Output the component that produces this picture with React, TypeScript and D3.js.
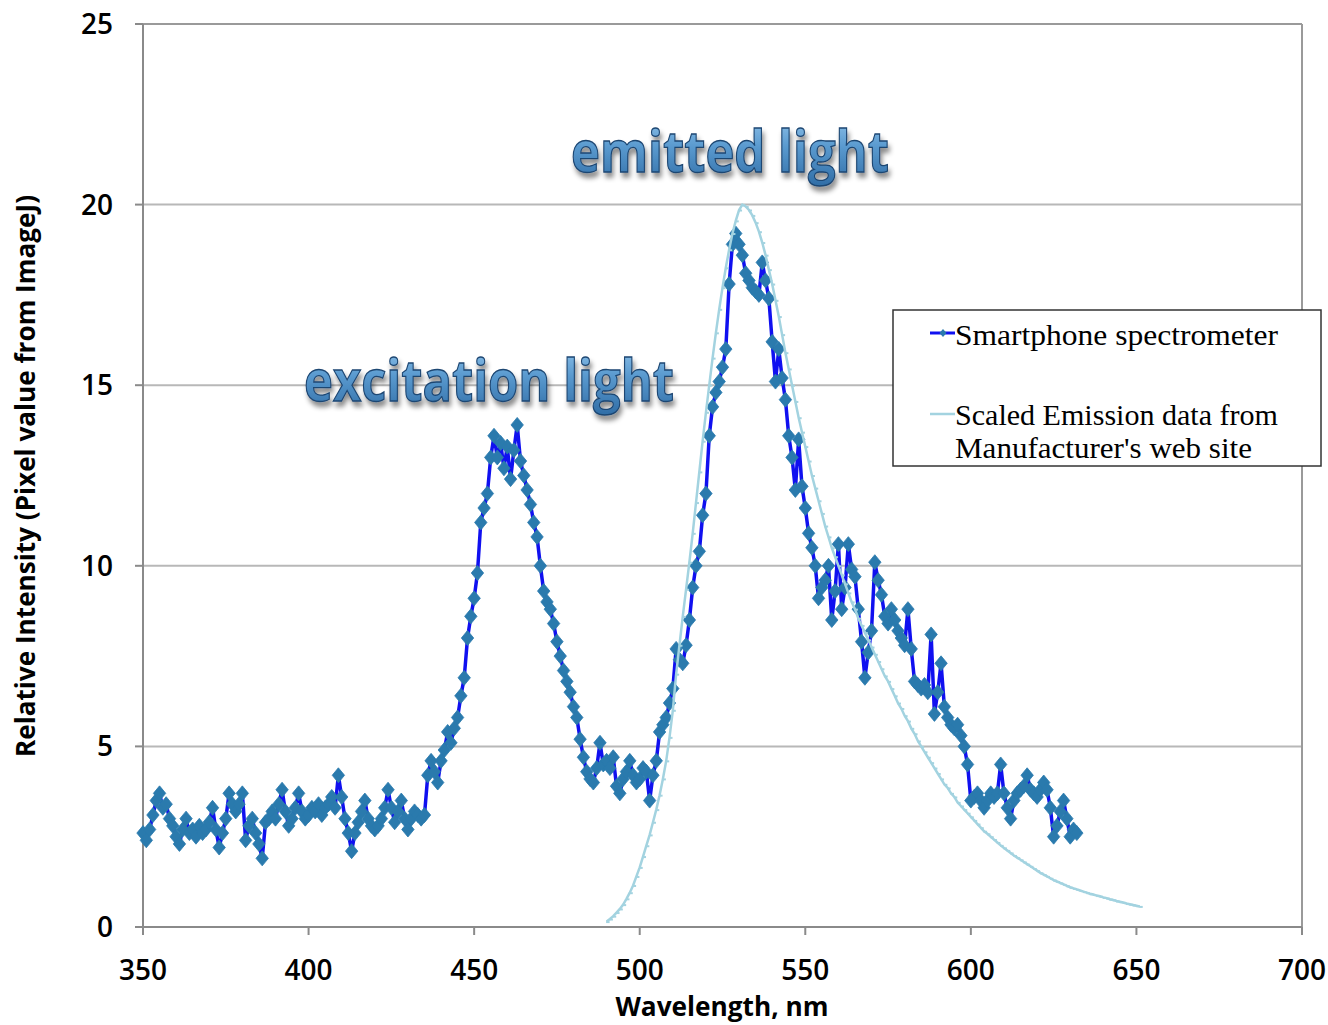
import React from 'react';
import * as d3 from 'd3';

// Smartphone spectrometer readings, one per nm starting at 350 nm
const PHONE_START_NM = 350;
const phoneIntensity: number[] = [
  2.6, 2.4, 2.7, 3.1, 3.5, 3.7, 3.3, 3.4, 3.0, 2.8,
  2.5, 2.3, 2.7, 3.0, 2.6, 2.7, 2.5, 2.8, 2.6, 2.7,
  2.9, 3.3, 2.7, 2.2, 2.6, 3.0, 3.7, 3.4, 3.2, 3.4,
  3.7, 2.4, 2.8, 3.0, 2.6, 2.3, 1.9, 2.9, 3.0, 3.2,
  3.0, 3.4, 3.8, 3.2, 2.8, 3.0, 3.3, 3.7, 3.2, 3.0,
  3.1, 3.3, 3.2, 3.4, 3.1, 3.3, 3.4, 3.6, 3.3, 4.2,
  3.6, 3.0, 2.6, 2.1, 2.6, 2.9, 3.2, 3.5, 3.0, 2.8,
  2.7, 2.8, 3.0, 3.3, 3.8, 3.3, 2.9, 3.2, 3.5, 3.0,
  2.7, 3.0, 3.2, 3.1, 3.0, 3.1, 4.2, 4.6, 4.3, 4.0,
  4.6, 4.9, 5.4, 5.1, 5.5, 5.8, 6.4, 6.9, 8.0, 8.6,
  9.1, 9.8, 11.2, 11.6, 12.0, 13.0, 13.6, 13.0, 13.4, 12.7,
  13.3, 12.4, 13.2, 13.9, 12.9, 12.5, 12.1, 11.7, 11.2, 10.8,
  10.0, 9.3, 9.0, 8.8, 8.4, 7.9, 7.5, 7.1, 6.8, 6.5,
  6.1, 5.8, 5.2, 4.7, 4.3, 4.1, 4.0, 4.4, 5.1, 4.5,
  4.6, 4.4, 4.7, 3.9, 3.7, 4.1, 4.3, 4.6, 4.2, 4.0,
  4.1, 4.4, 4.3, 3.5, 4.2, 4.6, 5.4, 5.6, 5.8, 6.2,
  6.6, 7.7, 7.4, 7.3, 7.8, 8.5, 9.4, 10.0, 10.4, 11.4,
  12.0, 13.6, 14.4, 14.8, 15.1, 15.5, 16.0, 17.8, 18.9, 19.2,
  18.9, 18.6, 18.1, 17.9, 17.7, 17.6, 17.5, 18.4, 17.9, 17.4,
  16.2, 15.1, 16.0, 15.2, 14.6, 13.6, 13.0, 12.1, 13.5, 12.2,
  11.6, 10.9, 10.5, 10.0, 9.1, 9.4, 9.6, 10.0, 8.5, 9.3,
  10.6, 8.8, 9.4, 10.6, 9.9, 9.7, 8.8, 7.9, 6.9, 7.6,
  8.2, 10.1, 9.6, 9.2, 8.6, 8.4, 8.8, 8.5, 8.2, 8.0,
  7.8, 8.8, 7.7, 6.8, 6.7, 6.6, 6.7, 6.5, 8.1, 5.9,
  6.5, 7.3, 6.1, 5.8, 5.6, 5.5, 5.6, 5.3, 5.0, 4.5,
  3.5, 3.6, 3.7, 3.5, 3.3, 3.5, 3.7, 3.6, 3.7, 4.5,
  3.7, 3.3, 3.0, 3.5, 3.7, 3.8, 3.9, 4.2, 3.8, 3.7,
  3.6, 3.8, 4.0, 3.8, 3.3, 2.5, 2.8, 3.2, 3.5, 3.0,
  2.5, 2.7, 2.6,
];

// Scaled manufacturer emission data, one per nm starting at 490 nm
const MFR_START_NM = 490;
const mfrIntensity: number[] = [
  0.15, 0.22, 0.3, 0.4, 0.5, 0.62, 0.78, 0.95, 1.15, 1.4,
  1.65, 1.95, 2.25, 2.55, 2.9, 3.25, 3.65, 4.1, 4.6, 5.25,
  6.0, 7.0, 7.8, 8.6, 9.35, 10.1, 10.9, 11.75, 12.6, 13.45,
  14.25, 15.0, 15.75, 16.45, 17.1, 17.7, 18.25, 18.75, 19.2, 19.55,
  19.85, 20.0, 19.95, 19.85, 19.7, 19.5, 19.25, 18.95, 18.6, 18.2,
  17.8, 17.35, 16.9, 16.4, 15.9, 15.45, 15.0, 14.55, 14.1, 13.7,
  13.3, 12.9, 12.5, 12.15, 11.8, 11.45, 11.1, 10.8, 10.5, 10.25,
  10.0, 9.75, 9.5, 9.25, 9.0, 8.8, 8.55, 8.35, 8.15, 7.95,
  7.75, 7.55, 7.35, 7.15, 6.95, 6.8, 6.6, 6.4, 6.2, 6.05,
  5.85, 5.7, 5.5, 5.35, 5.15, 5.0, 4.85, 4.7, 4.55, 4.4,
  4.25, 4.1, 3.95, 3.85, 3.7, 3.6, 3.45, 3.35, 3.25, 3.15,
  3.05, 2.95, 2.85, 2.75, 2.65, 2.58, 2.5, 2.42, 2.34, 2.26,
  2.19, 2.12, 2.05, 1.98, 1.92, 1.86, 1.8, 1.74, 1.68, 1.62,
  1.56, 1.5, 1.45, 1.4, 1.35, 1.3, 1.26, 1.22, 1.18, 1.14,
  1.1, 1.07, 1.04, 1.01, 0.98, 0.95, 0.92, 0.9, 0.87, 0.85,
  0.82, 0.8, 0.77, 0.75, 0.72, 0.7, 0.68, 0.65, 0.63, 0.61,
  0.59, 0.57,
];

const xTicks = [350, 400, 450, 500, 550, 600, 650, 700];
const yTicks = [0, 5, 10, 15, 20, 25];
const seriesNames = ['Smartphone spectrometer', 'Scaled Emission data from', "Manufacturer's web site"];
const annotations = ['emitted light', 'excitation light'];
const xTitle = 'Wavelength, nm';
const yTitle = 'Relative Intensity (Pixel value from ImageJ)';

const PHONE_LINE = '#1010f0';
const PHONE_MARK = '#2a7aad';
const MFR_LINE = '#a3d3e0';
const TICK_FONT = '"Open Sans", "Noto Sans", sans-serif';

const diamond = 'M0,-7.5L6.2,0L0,7.5L-6.2,0Z';

export default function App() {
  const x = d3.scaleLinear().domain([350, 700]).range([143, 1302]);
  const y = d3.scaleLinear().domain([0, 25]).range([927, 24]);

  const phone: [number, number][] = phoneIntensity.map((v, i) => [PHONE_START_NM + i, v]);
  const mfr: [number, number][] = mfrIntensity.map((v, i) => [MFR_START_NM + i, v]);

  const line = d3
    .line<[number, number]>()
    .x((d) => x(d[0]))
    .y((d) => y(d[1]));

  const [x0, x1] = x.range();
  const [yb, yt] = y.range();

  return (
    <svg
      width={1328}
      height={1025}
      style={{ position: 'absolute', left: 0, top: 0, background: '#fff' }}
    >
      <defs>
        <linearGradient id="annGrad" x1="0" y1="0" x2="0" y2="1">
          <stop offset="0" stopColor="#9ccbef" />
          <stop offset="0.45" stopColor="#5b9bd0" />
          <stop offset="1" stopColor="#2d6aa3" />
        </linearGradient>
        <filter id="annShadow" x="-10%" y="-30%" width="120%" height="170%">
          <feDropShadow dx="2" dy="5" stdDeviation="2.5" floodColor="#000" floodOpacity="0.45" />
        </filter>
      </defs>
      <rect x={0} y={0} width={1328} height={1025} fill="#fff" />

      {/* gridlines */}
      {yTicks.map((t) => (
        <line key={'g' + t} x1={x0} x2={x1} y1={y(t)} y2={y(t)} stroke="#b8b8b8" strokeWidth={2} />
      ))}
      {/* plot frame */}
      <line x1={x1} x2={x1} y1={yt} y2={yb} stroke="#9a9a9a" strokeWidth={2} />
      <line x1={x0} x2={x1} y1={yt} y2={yt} stroke="#9a9a9a" strokeWidth={2} />
      {/* axes */}
      <line x1={x0} x2={x0} y1={yt} y2={yb} stroke="#8a8a8a" strokeWidth={2} />
      <line x1={x0} x2={x1} y1={yb} y2={yb} stroke="#8a8a8a" strokeWidth={2} />
      {yTicks.map((t) => (
        <line key={'yt' + t} x1={x0 - 8} x2={x0} y1={y(t)} y2={y(t)} stroke="#8a8a8a" strokeWidth={2} />
      ))}
      {xTicks.map((t) => (
        <line key={'xt' + t} x1={x(t)} x2={x(t)} y1={yb} y2={yb + 8} stroke="#8a8a8a" strokeWidth={2} />
      ))}

      {/* tick labels */}
      {yTicks.map((t) => (
        <text
          key={'yl' + t}
          x={113}
          y={y(t)}
          dy="0.36em"
          textAnchor="end"
          fontFamily={TICK_FONT}
          fontWeight={600}
          fontSize={28}
          fill="#000"
        >
          {t}
        </text>
      ))}
      {xTicks.map((t) => (
        <text
          key={'xl' + t}
          x={x(t)}
          y={980}
          textAnchor="middle"
          fontFamily={TICK_FONT}
          fontWeight={600}
          fontSize={29}
          textLength={48}
          lengthAdjust="spacingAndGlyphs"
          fill="#000"
        >
          {t}
        </text>
      ))}

      {/* axis titles */}
      <text
        x={722}
        y={1016}
        textAnchor="middle"
        fontFamily={TICK_FONT}
        fontWeight="bold"
        fontSize={26}
        textLength={213}
        lengthAdjust="spacingAndGlyphs"
      >
        {xTitle}
      </text>
      <text
        transform="translate(35,476) rotate(-90)"
        textAnchor="middle"
        fontFamily={TICK_FONT}
        fontWeight="bold"
        fontSize={26}
        textLength={562}
        lengthAdjust="spacingAndGlyphs"
      >
        {yTitle}
      </text>

      {/* smartphone series */}
      <path d={line(phone) || ''} fill="none" stroke={PHONE_LINE} strokeWidth={3.5} />
      {phone.map((d, i) => (
        <path
          key={'pm' + i}
          d={diamond}
          transform={`translate(${x(d[0])},${y(d[1])})`}
          fill={PHONE_MARK}
          stroke={PHONE_MARK}
          strokeWidth={0.8}
        />
      ))}

      {/* manufacturer series */}
      <path d={line(mfr) || ''} fill="none" stroke={MFR_LINE} strokeWidth={2.5} />
      {mfr.map((d, i) => (
        <rect
          key={'mm' + i}
          x={x(d[0]) - 0.5}
          y={y(d[1]) - 0.5}
          width={3.5}
          height={2}
          fill={MFR_LINE}
        />
      ))}

      {/* annotations */}
      <g filter="url(#annShadow)">
        <text
          x={730}
          y={172}
          textAnchor="middle"
          fontFamily={TICK_FONT}
          fontWeight="bold"
          fontSize={58}
          textLength={318}
          lengthAdjust="spacingAndGlyphs"
          fill="url(#annGrad)"
          stroke="#1d4672"
          strokeWidth={1.3}
        >
          {annotations[0]}
        </text>
        <text
          x={489}
          y={401}
          textAnchor="middle"
          fontFamily={TICK_FONT}
          fontWeight="bold"
          fontSize={58}
          textLength={370}
          lengthAdjust="spacingAndGlyphs"
          fill="url(#annGrad)"
          stroke="#1d4672"
          strokeWidth={1.3}
        >
          {annotations[1]}
        </text>
      </g>

      {/* legend */}
      <rect x={893} y={310} width={428} height={156} fill="#fff" stroke="#333" strokeWidth={1.5} />
      <line x1={930} x2={955} y1={333} y2={333} stroke={PHONE_LINE} strokeWidth={3} />
      <path d="M0,-4L3.5,0L0,4L-3.5,0Z" transform="translate(943,333)" fill={PHONE_MARK} />
      <line x1={930} x2={955} y1={414} y2={414} stroke={MFR_LINE} strokeWidth={2.5} />
      {seriesNames.map((s, i) => {
        const ys = [345, 425, 458];
        const lens = [323, 323, 297];
        return (
          <text
            key={'lg' + i}
            x={955}
            y={ys[i]}
            fontFamily='"Liberation Serif", "DejaVu Serif", serif'
            fontSize={29}
            textLength={lens[i]}
            lengthAdjust="spacingAndGlyphs"
            fill="#000"
          >
            {s}
          </text>
        );
      })}
    </svg>
  );
}
